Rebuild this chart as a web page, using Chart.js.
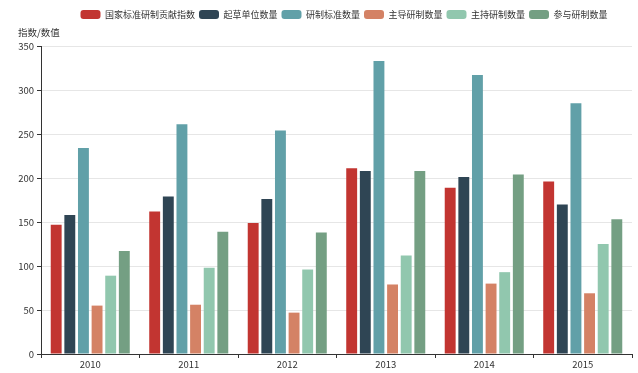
<!DOCTYPE html>
<html>
<head>
<meta charset="utf-8">
<script src="https://cdn.jsdelivr.net/npm/chart.js@4"></script>
<style>
  html, body { margin: 0; padding: 0; background: #fff; }
  #wrap { width: 638px; height: 373px; }
</style>
</head>
<body>
<div id="wrap"><canvas id="chart" width="638" height="373"></canvas></div>
<script>
const years = ["2010", "2011", "2012", "2013", "2014", "2015"];
const seriesNames = ["国家标准研制贡献指数", "起草单位数量", "研制标准数量", "主导研制数量", "主持研制数量", "参与研制数量"];
const contribIndex = [147, 162, 149, 211, 189, 196];
const drafters = [158, 179, 176, 208, 201, 170];
const standards = [234, 261, 254, 333, 317, 285];
const leading = [55, 56, 47, 79, 80, 69];
const hosting = [89, 98, 96, 112, 93, 125];
const participating = [117, 139, 138, 208, 204, 153];
const yTicks = [0, 50, 100, 150, 200, 250, 300, 350];
const colors = ["#c23531", "#2f4554", "#61a0a8", "#d48265", "#91c7ae", "#749f83"];

const FONT = "'Noto Sans CJK SC', 'Noto Sans', sans-serif";
const allValues = [contribIndex, drafters, standards, leading, hosting, participating];

// legend height fixed so the plot starts where the original does,
// and the legend row nudged right like in the original
const fixLegend = {
  id: "fixLegend",
  beforeInit(chart) {
    const lg = chart.legend;
    const fit = lg.fit;
    lg.fit = function () {
      fit.call(this);
      this.height = 40;
    };
  },
  afterLayout(chart) {
    const lg = chart.legend;
    lg.left += 28;
    lg.right += 28;
  }
};

const yName = {
  id: "yName",
  afterDraw(chart) {
    const c = chart.ctx;
    c.save();
    c.font = "9.5px " + FONT;
    c.fillStyle = "#333";
    c.textBaseline = "middle";
    c.fillText("指数/数值", 18, 32);
    c.restore();
  }
};

new Chart(document.getElementById("chart"), {
  type: "bar",
  data: {
    labels: years,
    datasets: seriesNames.map((name, i) => ({
      label: name,
      data: allValues[i],
      backgroundColor: colors[i],
      borderColor: colors[i],
      borderWidth: 0,
      categoryPercentage: 0.83,
      barPercentage: 0.8
    }))
  },
  plugins: [fixLegend, yName],
  options: {
    responsive: false,
    animation: false,
    layout: { padding: { left: 0, right: 6, top: 6, bottom: 0 } },
    plugins: {
      legend: {
        position: "top",
        labels: {
          boxWidth: 20,
          boxHeight: 9,
          padding: 4,
          useBorderRadius: true,
          borderRadius: 3,
          color: "#333",
          font: { family: FONT, size: 9 }
        }
      },
      tooltip: { enabled: false }
    },
    scales: {
      x: {
        grid: {
          drawOnChartArea: false,
          drawTicks: true,
          tickLength: 4,
          tickColor: "#333"
        },
        border: { color: "#333", width: 1 },
        ticks: { color: "#333", font: { family: FONT, size: 9.5 }, padding: 1 },
        afterFit(s) { s.height = 19; }
      },
      y: {
        min: 0,
        max: 350,
        afterBuildTicks(s) { s.ticks = yTicks.map(v => ({ value: v })); },
        grid: {
          color: "#e6e6e6",
          tickColor: "#333",
          tickLength: 4
        },
        border: { color: "#333", width: 1 },
        ticks: { color: "#333", font: { family: FONT, size: 9.5 }, padding: 3 },
        afterFit(s) { s.width = 41; }
      }
    }
  }
});
</script>
</body>
</html>
